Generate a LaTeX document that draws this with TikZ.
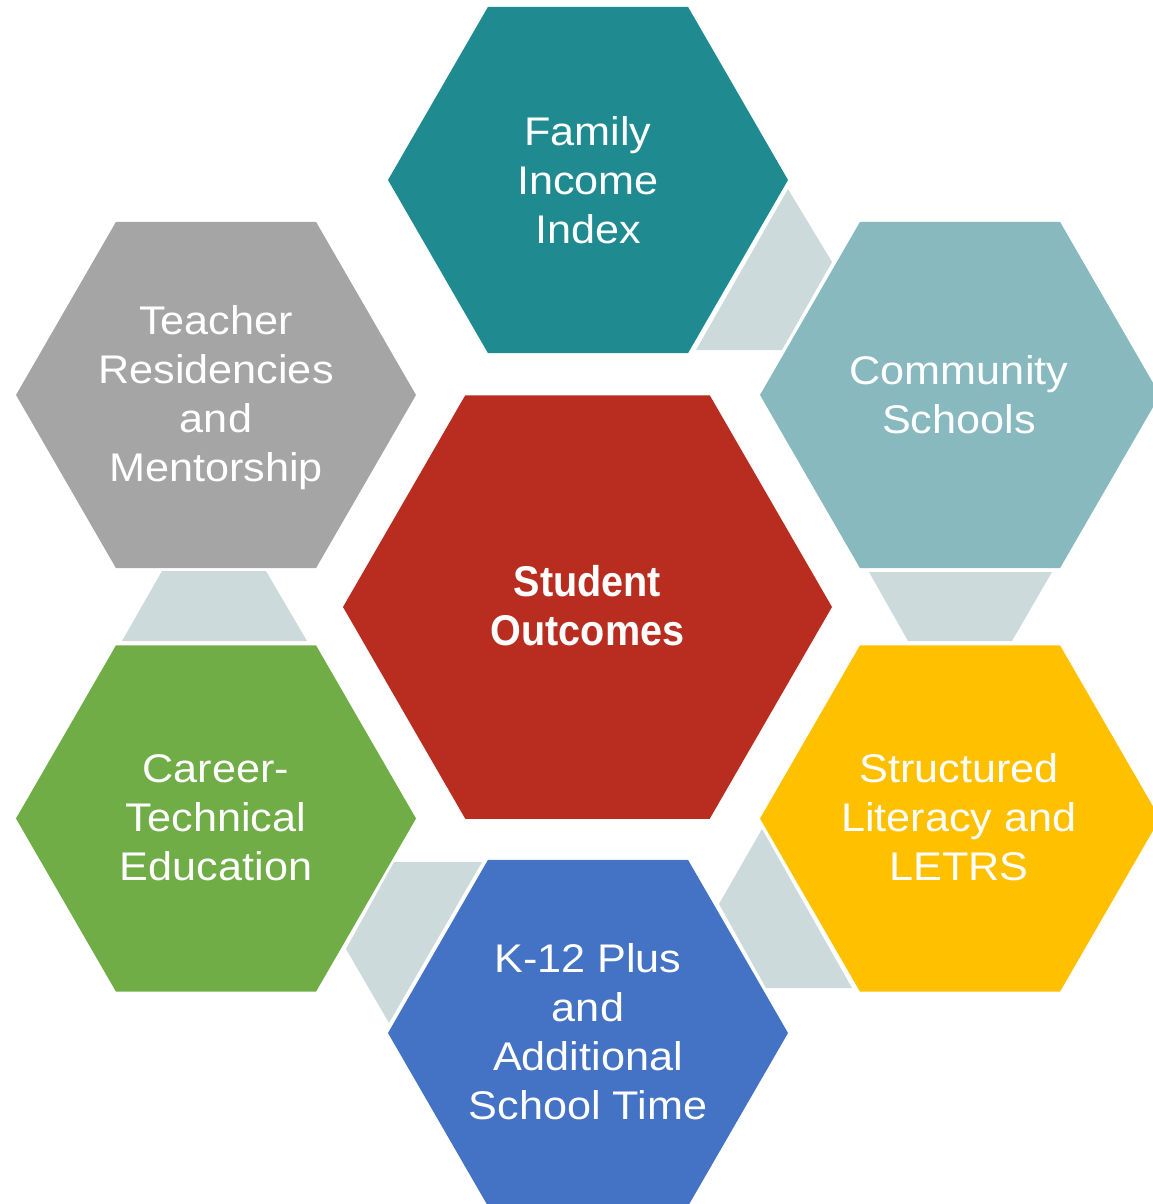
\documentclass[tikz,border=0pt]{standalone}
\usepackage{fontspec}
\setmainfont{Liberation Sans}[FakeStretch=1.08]
\newfontface\centerface{Liberation Sans Bold}[FakeStretch=0.92]
\definecolor{cteal}{HTML}{1F8A90}
\definecolor{clteal}{HTML}{88B9BF}
\definecolor{cgold}{HTML}{FFC000}
\definecolor{cblue}{HTML}{4472C4}
\definecolor{cgreen}{HTML}{70AD47}
\definecolor{cgray}{HTML}{A5A5A5}
\definecolor{cred}{HTML}{B92D20}
\definecolor{clink}{HTML}{CCDADB}
\tikzset{
  hexlabel/.style={text=white, align=center, inner sep=0pt, font=\fontsize{40}{49}\selectfont},
  centerlabel/.style={text=white, align=center, inner sep=0pt, font=\centerface\fontsize{43}{49}\selectfont},
  linkshape/.style={fill=clink},
}
\newcommand\hexshape[4]{\fill[#1] (#2,#3) +(0:#4) -- +(60:#4) -- +(120:#4) -- +(180:#4) -- +(240:#4) -- +(300:#4) -- cycle;}
\begin{document}
\begin{tikzpicture}[x=1pt,y=-1pt]
\useasboundingbox (0,0) rectangle (1153,1204);
\clip (0,0) rectangle (1153,1204);
% connectors
\fill[linkshape] (788,189) -- (832,262) -- (782,350) -- (696,350) -- cycle;
\fill[linkshape] (869,572) -- (1052,572) -- (1012,641) -- (908,641) -- cycle;
\fill[linkshape] (762,829) -- (719,904) -- (766,988) -- (852,988) -- cycle;
\fill[linkshape] (394,862) -- (482,862) -- (389,1023) -- (346,949) -- cycle;
\fill[linkshape] (162,571) -- (266,571) -- (307,641) -- (122,641) -- cycle;
% hexagons
\hexshape{cred}{587.5}{607}{244.5}
\hexshape{cteal}{588}{180}{200}
\hexshape{clteal}{960}{395}{200}
\hexshape{cgold}{960}{818.5}{200}
\hexshape{cblue}{588}{1033}{200}
\hexshape{cgreen}{216}{818.5}{200}
\hexshape{cgray}{216}{395}{200}
% labels
\node[centerlabel] (so) at (587.5,606) {Student\\Outcomes};
\node[hexlabel] (fii) at (588,180) {Family\\Income\\Index};
\node[hexlabel] (cs) at (959,395) {Community\\Schools};
\node[hexlabel] (sl) at (959,817) {Structured\\Literacy and\\LETRS};
\node[hexlabel] (k12) at (588,1032) {K-12 Plus\\and\\Additional\\School Time};
\node[hexlabel] (cte) at (216,818) {Career-\\Technical\\Education};
\node[hexlabel] (tr) at (216,398) {Teacher\\Residencies\\and\\Mentorship};
\end{tikzpicture}
\end{document}
